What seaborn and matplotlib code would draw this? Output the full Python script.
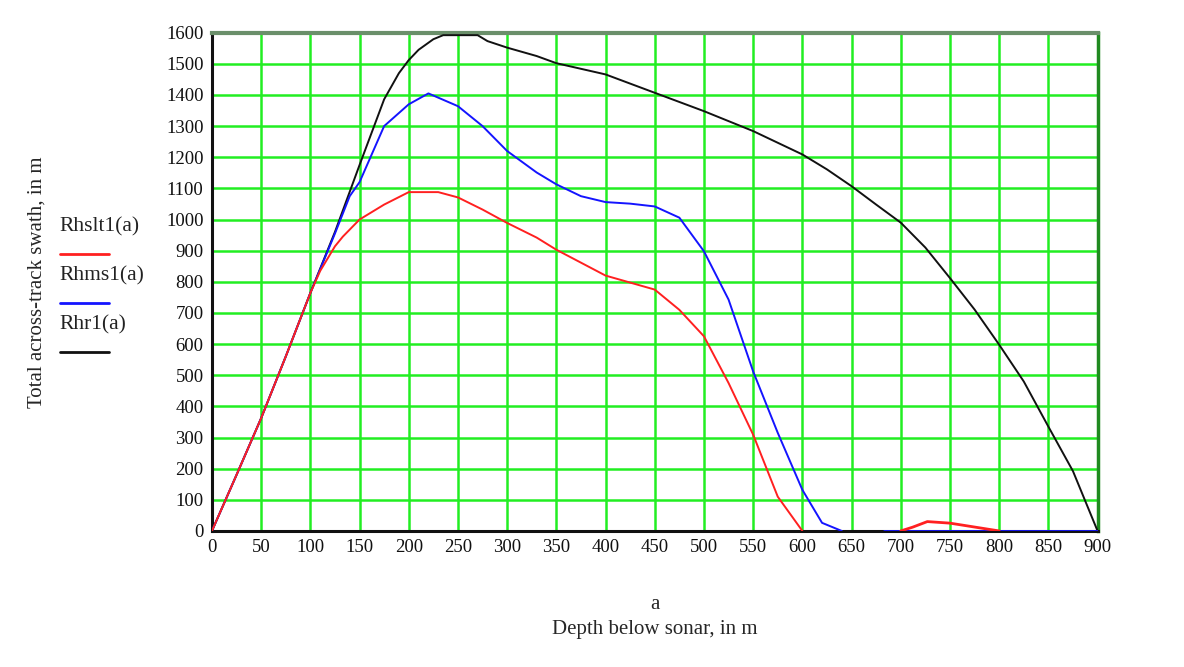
import seaborn as sns
import matplotlib.pyplot as plt
from matplotlib.lines import Line2D

# data (depth a in m -> swath in m)
depth_rhr = [0, 25, 50, 75, 100, 125, 150, 175, 190, 200, 210, 225, 235, 250, 270, 280,
             300, 330, 350, 400, 450, 500, 550, 600, 625, 650, 675, 700, 725, 750,
             775, 800, 825, 850, 875, 900]
rhr1 = [0, 180, 362, 560, 764, 960, 1175, 1386, 1470, 1512, 1545, 1579, 1592, 1592, 1592, 1573,
        1552, 1525, 1502, 1466, 1407, 1348, 1284, 1209, 1161, 1107, 1048, 990, 910, 812,
        711, 598, 480, 335, 192, 0]

depth_rhms = [0, 25, 50, 75, 100, 125, 140, 150, 175, 200, 220, 250, 275, 300, 330,
              350, 375, 400, 425, 450, 475, 500, 525, 550, 575, 600, 620, 640]
rhms1 = [0, 180, 362, 560, 764, 955, 1075, 1120, 1300, 1370, 1405, 1364, 1300, 1220, 1151,
         1113, 1075, 1056, 1051, 1042, 1006, 898, 743, 512, 315, 132, 26, 0]
depth_rhms_tail = [683, 900]
rhms1_tail = [0, 0]

depth_rhslt = [0, 25, 50, 75, 100, 110, 125, 133, 150, 175, 200, 230, 250, 275, 300,
               330, 350, 400, 450, 475, 500, 525, 550, 575, 600]
rhslt1 = [0, 180, 362, 560, 764, 835, 914, 945, 1000, 1048, 1088, 1088, 1071, 1032, 989,
          942, 903, 820, 775, 710, 625, 475, 309, 110, 0]
depth_rhslt_bump = [700, 712, 727, 750, 772, 790, 800]
rhslt1_bump = [0, 12, 30, 25, 14, 5, 0]

legend_labels = ["Rhslt1(a)", "Rhms1(a)", "Rhr1(a)"]
colors = ["#ff2020", "#1414ff", "#111111"]

sns.set_theme(style="white")
plt.rcParams['font.family'] = ['Liberation Serif', 'DejaVu Serif']

fig = plt.figure(figsize=(11.84, 6.67), dpi=100)
ax = fig.add_axes([0.179, 0.204, 0.748, 0.747])

lw = 1.4
sns.lineplot(x=depth_rhr, y=rhr1, color=colors[2], lw=lw, ax=ax, zorder=3)
sns.lineplot(x=depth_rhms, y=rhms1, color=colors[1], lw=lw, ax=ax, zorder=4)
sns.lineplot(x=depth_rhms_tail, y=rhms1_tail, color=colors[1], lw=2, ax=ax, zorder=6)
sns.lineplot(x=depth_rhslt, y=rhslt1, color=colors[0], lw=lw, ax=ax, zorder=5)
sns.lineplot(x=depth_rhslt_bump, y=rhslt1_bump, color=colors[0], lw=2, ax=ax, zorder=7)

ax.set_xlim(0, 900)
ax.set_ylim(0, 1600)
ax.set_xticks(range(0, 901, 50))
ax.set_yticks(range(0, 1601, 100))
ax.grid(True, color="#22ee22", lw=1.8)
ax.set_axisbelow(True)
ax.tick_params(length=0, labelsize=13.5, colors="#111111", pad=6)

for s in ["left", "bottom"]:
    ax.spines[s].set_color("#111111")
    ax.spines[s].set_linewidth(2.2)
ax.spines["top"].set_color("#6a8f6a")
ax.spines["top"].set_linewidth(3)
ax.spines["right"].set_color("#1f8a1f")
ax.spines["right"].set_linewidth(2.5)

ax.set_xlabel("a\nDepth below sonar, in m", fontsize=15, labelpad=28, linespacing=1.4)
ax.set_ylabel("Total across-track swath, in m", fontsize=15, labelpad=0)
ax.yaxis.set_label_coords(-0.187, 0.5)

# legend drawn in the left margin: label text with a line sample below
leg_y = [0.660, 0.586, 0.513]
for lab, col, yy in zip(legend_labels, colors, leg_y):
    fig.text(0.050, yy, lab, fontsize=15.5, color="#222222", va="center")
    fig.add_artist(Line2D([0.051, 0.092], [yy - 0.041, yy - 0.041],
                          color=col, lw=2, transform=fig.transFigure))

fig.savefig("out.png", dpi=100, facecolor="white")
